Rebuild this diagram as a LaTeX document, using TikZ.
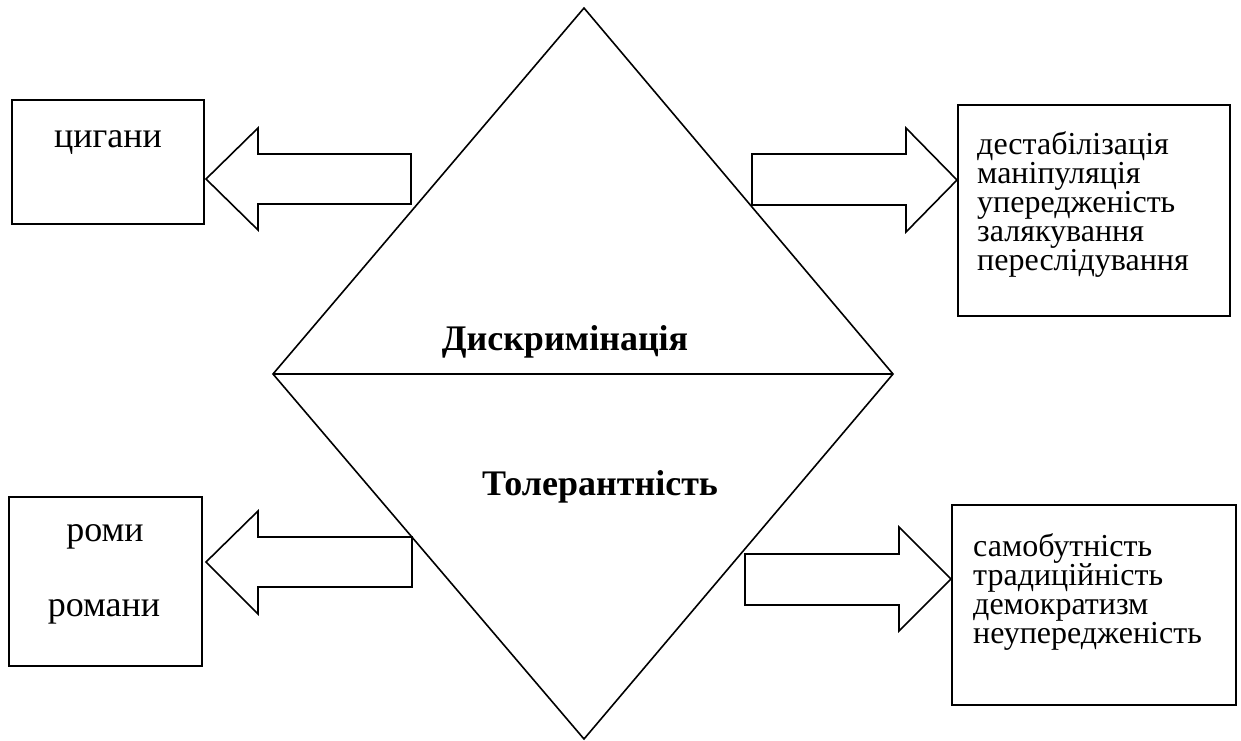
\documentclass[tikz,border=0pt]{standalone}
\usepackage{fontspec}
\setmainfont{Liberation Serif}
\begin{document}
\begin{tikzpicture}[x=1pt,y=-1pt,
  shape line/.style={draw=black,line width=1.6pt,line join=miter},
  boxed/.style={draw=black,line width=1.6pt,fill=white},
  lefttext/.style={font=\fontsize{36}{36}\selectfont,inner sep=0pt,anchor=base},
  righttext/.style={font=\fontsize{32}{29}\selectfont,inner sep=0pt,anchor=base west,align=left},
  boldtext/.style={font=\fontsize{36}{36}\selectfont\bfseries,inner sep=0pt,anchor=base}]
\useasboundingbox (0,0) rectangle (1241,740);
% diamond
\coordinate (dt) at (584,8);
\coordinate (dl) at (273,374);
\coordinate (dr) at (893,374);
\coordinate (db) at (584,739);
\draw[shape line] (dt) -- (dr) -- (db) -- (dl) -- cycle;
\draw[shape line] (dl) -- (dr);
\node[boldtext] (disk) at (565,350) {Дискримінація};
\node[boldtext] (tol) at (600,495) {Толерантність};
% boxes
\draw[boxed] (12,100) rectangle (204,224);
\node[lefttext] (cyg) at (108,147) {цигани};
\draw[boxed] (9,497) rectangle (202,666);
\node[lefttext] (romy) at (105,541) {роми};
\node[lefttext] (romany) at (104,616) {романи};
\draw[boxed] (958,105) rectangle (1230,316);
\node[righttext] (neg) at (977,270) {дестабілізація\\маніпуляція\\упередженість\\залякування\\переслідування};
\draw[boxed] (952,505) rectangle (1236,705);
\node[righttext] (pos) at (973,643) {самобутність\\традиційність\\демократизм\\неупередженість};
% block arrows
\draw[shape line] (206,179) -- (258,128) -- (258,154) -- (411,154) -- (411,204) -- (258,204) -- (258,230) -- cycle;
\draw[shape line] (206,562) -- (258,511) -- (258,537) -- (412,537) -- (412,587) -- (258,587) -- (258,614) -- cycle;
\draw[shape line] (957,180) -- (906,128) -- (906,154) -- (752,154) -- (752,205) -- (906,205) -- (906,232) -- cycle;
\draw[shape line] (951,579) -- (899,527) -- (899,554) -- (745,554) -- (745,605) -- (899,605) -- (899,631) -- cycle;
\end{tikzpicture}
\end{document}
